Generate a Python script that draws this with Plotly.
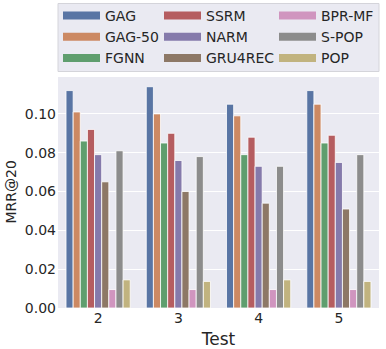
import plotly.graph_objects as go

categories = ["2", "3", "4", "5"]
methods = ["GAG", "GAG-50", "FGNN", "SSRM", "NARM", "GRU4REC", "BPR-MF", "S-POP", "POP"]
colors = ["#5975A4", "#CC8963", "#5F9E6E", "#B55D60", "#857AAB", "#8D7866", "#D095BF", "#8C8C8C", "#C1B37F"]

gag = [0.112, 0.114, 0.105, 0.112]
gag50 = [0.101, 0.100, 0.099, 0.105]
fgnn = [0.086, 0.085, 0.079, 0.085]
ssrm = [0.092, 0.090, 0.088, 0.089]
narm = [0.079, 0.076, 0.073, 0.075]
gru4rec = [0.065, 0.060, 0.054, 0.051]
bprmf = [0.0095, 0.0095, 0.0095, 0.0095]
spop = [0.081, 0.078, 0.073, 0.079]
pop = [0.0145, 0.0137, 0.0145, 0.0137]

series = [gag, gag50, fgnn, ssrm, narm, gru4rec, bprmf, spop, pop]

W, H = 386, 349
ml, mr, mt, mb = 58, 7, 77, 41
pw = W - ml - mr

fig = go.Figure()
for name, vals, c in zip(methods, series, colors):
    fig.add_trace(go.Bar(x=categories, y=vals, name=name,
                         marker=dict(color=c, line=dict(color="white", width=0.8)),
                         showlegend=False, legendgroup=name))

legend_names = ["legend", "legend2", "legend3"]
for i, (name, c) in enumerate(zip(methods, colors)):
    fig.add_trace(go.Scatter(x=[categories[0]], y=[None], mode="lines", name=name,
                             line=dict(color=c, width=8), legendgroup=name,
                             legend=legend_names[i // 3], showlegend=True, hoverinfo="skip"))

def leg(xpx):
    return dict(xref="container", yref="container", x=xpx / W, y=1.0,
                xanchor="left", yanchor="top", bgcolor="rgba(0,0,0,0)", borderwidth=0,
                tracegroupgap=0, itemwidth=37,
                font=dict(family="DejaVu Sans", size=14, color="#262626"), orientation="v")

fig.update_layout(
    width=W, height=H,
    margin=dict(l=ml, r=mr, t=mt, b=mb, autoexpand=False),
    plot_bgcolor="#EAEAF2", paper_bgcolor="white",
    font=dict(family="DejaVu Sans", size=14, color="#262626"),
    barmode="group", bargap=0.2, bargroupgap=0,
    xaxis=dict(type="category", categoryorder="array", categoryarray=categories,
               title=dict(text="Test"), showgrid=False, ticks="", zeroline=False),
    yaxis=dict(range=[0, 0.119], dtick=0.02, tickformat=".2f", gridcolor="white", gridwidth=1,
               zeroline=False, ticks="", ticklabelstandoff=1),
    legend=leg(58), legend2=leg(159), legend3=leg(274),
    annotations=[dict(text="MRR@20", textangle=-90, xref="paper", yref="paper",
                      x=(10 - ml) / pw, y=0.5, xanchor="center", yanchor="middle", showarrow=False,
                      font=dict(family="DejaVu Sans", size=14, color="#262626"))],
    shapes=[dict(type="rect", xref="paper", yref="paper", x0=0, x1=1,
                 y0=(308 - 71.5) / 231, y1=(308 - 3.5) / 231,
                 line=dict(color="#D4D4DA", width=1), fillcolor="#EAEAF2", layer="below")],
)

fig.write_html("out.html", config={"displayModeBar": False},
               post_script="document.body.style.margin='0';")
